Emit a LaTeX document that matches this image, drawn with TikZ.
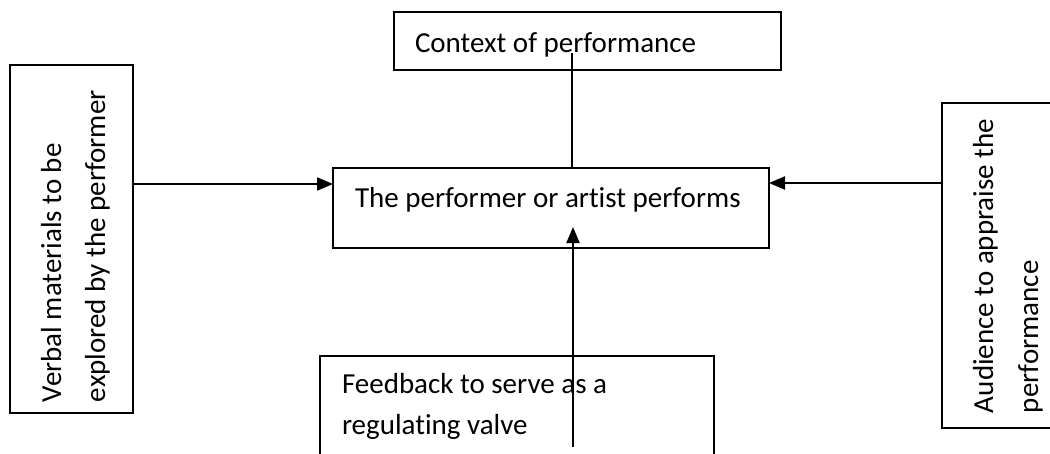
\documentclass[tikz,border=0pt]{standalone}
\usepackage{fontspec}
\setmainfont{Carlito}[Ligatures=NoCommon]
\usetikzlibrary{arrows.meta}
\begin{document}
\begin{tikzpicture}[x=1pt,y=-1pt,
  box/.style={draw,line width=1.5pt,inner sep=0pt,outer sep=0pt},
  lbl/.style={inner sep=0pt,outer sep=0pt,font=\fontsize{29}{35}\selectfont},
  conn/.style={line width=2pt},
  arr/.style={conn,-{Triangle[length=16pt,width=13pt]}}]
\useasboundingbox (0,0) rectangle (1050,453);
\fill[white] (0,0) rectangle (1050,453);
\clip (0,0) rectangle (1050,453);
% boxes
\node[box,minimum width=123pt,minimum height=348pt] (lbox) at (71.5,239) {};
\node[box,minimum width=387pt,minimum height=58pt] (ctx) at (587.5,41) {};
\node[box,minimum width=436pt,minimum height=80pt] (cbox) at (551,208) {};
\node[box,minimum width=128pt,minimum height=325pt] (rbox) at (1006,265.5) {};
\node[box,minimum width=394pt,minimum height=124pt] (fbox) at (517,418) {};
% texts
\node[lbl,rotate=90,anchor=base west] (l1) at (61,402) {Verbal materials to be};
\node[lbl,rotate=90,anchor=base west] (l2) at (105,402) {explored by the performer};
\node[lbl,anchor=base west] (ct) at (415,52) {Context of performance};
\node[lbl,anchor=base west] (cb) at (355,207) {The performer or artist performs};
\node[lbl,rotate=90,anchor=base west] (r1) at (993,413) {Audience to appraise the};
\node[lbl,rotate=90,anchor=base west] (r2) at (1038,413) {performance};
\node[lbl,anchor=base west] (f1) at (342,393) {Feedback to serve as a};
\node[lbl,anchor=base west] (f2) at (342,434) {regulating valve};
% connectors
\coordinate (la) at (lbox.east |- 0,184);
\coordinate (ra) at (rbox.west |- 0,183);
\coordinate (cs) at (572,53);
\coordinate (fs) at (573,447);
\coordinate (ft) at (573,227);
\draw[arr] (la) -- (la -| cbox.west);
\draw[arr] (ra) -- (ra -| cbox.east);
\draw[conn] (cs) -- (cs |- cbox.north);
\draw[arr] (fs) -- (ft);
\end{tikzpicture}
\end{document}
